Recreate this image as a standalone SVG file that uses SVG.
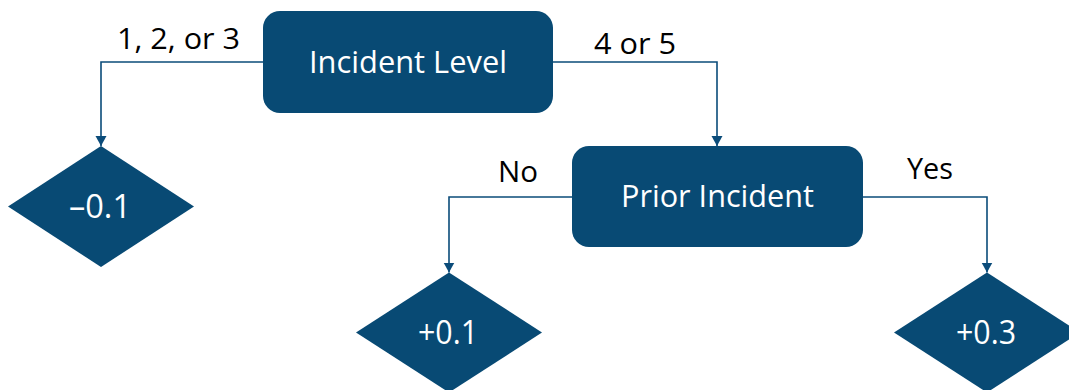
<svg xmlns="http://www.w3.org/2000/svg" width="1069" height="390" viewBox="0 0 1069 390">
  <style>
    .shape { fill: #084A74; }
    .conn { fill: none; stroke: #0B4C7A; stroke-width: 1.6; }
    .inner { font-family: "Open Sans", "Liberation Sans", sans-serif; font-size: 31px; fill: #FFFFFF; text-anchor: middle; }
    .num { font-family: "Open Sans", "Liberation Sans", sans-serif; font-size: 32px; fill: #FFFFFF; text-anchor: middle; }
    .lbl { font-family: "Open Sans", "Liberation Sans", sans-serif; font-size: 30px; fill: #000000; text-anchor: middle; }
  </style>
  <defs>
    <marker id="arrow" markerUnits="userSpaceOnUse" markerWidth="12" markerHeight="12" refX="10" refY="6" orient="auto">
      <path d="M0,0.5 L10,6 L0,11.5 Z" fill="#0B4C7A"/>
    </marker>
  </defs>
  <rect width="1069" height="390" fill="#FFFFFF"/>

  <g id="connectors">
    <path class="conn" d="M263,62 H101 V146" marker-end="url(#arrow)"/>
    <path class="conn" d="M553,62 H717 V146" marker-end="url(#arrow)"/>
    <path class="conn" d="M572,197 H449 V272.5" marker-end="url(#arrow)"/>
    <path class="conn" d="M863,197 H987 V272.5" marker-end="url(#arrow)"/>
    <text class="lbl" x="178.5" y="49" textLength="123" lengthAdjust="spacingAndGlyphs">1, 2, or 3</text>
    <text class="lbl" x="635" y="54" textLength="82" lengthAdjust="spacingAndGlyphs">4 or 5</text>
    <text class="lbl" x="518" y="182" textLength="40" lengthAdjust="spacingAndGlyphs">No</text>
    <text class="lbl" x="930" y="179" textLength="46" lengthAdjust="spacingAndGlyphs">Yes</text>
  </g>

  <g id="incident-level">
    <rect class="shape" x="263" y="11" width="290" height="102" rx="17" ry="17"/>
    <text class="inner" x="408" y="73" textLength="198" lengthAdjust="spacingAndGlyphs">Incident Level</text>
  </g>

  <g id="prior-incident">
    <rect class="shape" x="572" y="146" width="291" height="101" rx="17" ry="17"/>
    <text class="inner" x="717.5" y="207" textLength="193" lengthAdjust="spacingAndGlyphs">Prior Incident</text>
  </g>

  <g id="minus-01">
    <polygon class="shape" points="101,146 194,206.5 101,267 8,206.5"/>
    <text class="num" x="100" y="218" textLength="62" lengthAdjust="spacingAndGlyphs">–0.1</text>
  </g>

  <g id="plus-01">
    <polygon class="shape" points="449,272.5 542,332.5 449,392.5 356,332.5"/>
    <text class="num" x="448" y="344" textLength="60" lengthAdjust="spacingAndGlyphs">+0.1</text>
  </g>

  <g id="plus-03">
    <polygon class="shape" points="987,272.5 1080,332.5 987,392.5 894,332.5"/>
    <text class="num" x="986" y="344" textLength="60" lengthAdjust="spacingAndGlyphs">+0.3</text>
  </g>
</svg>
